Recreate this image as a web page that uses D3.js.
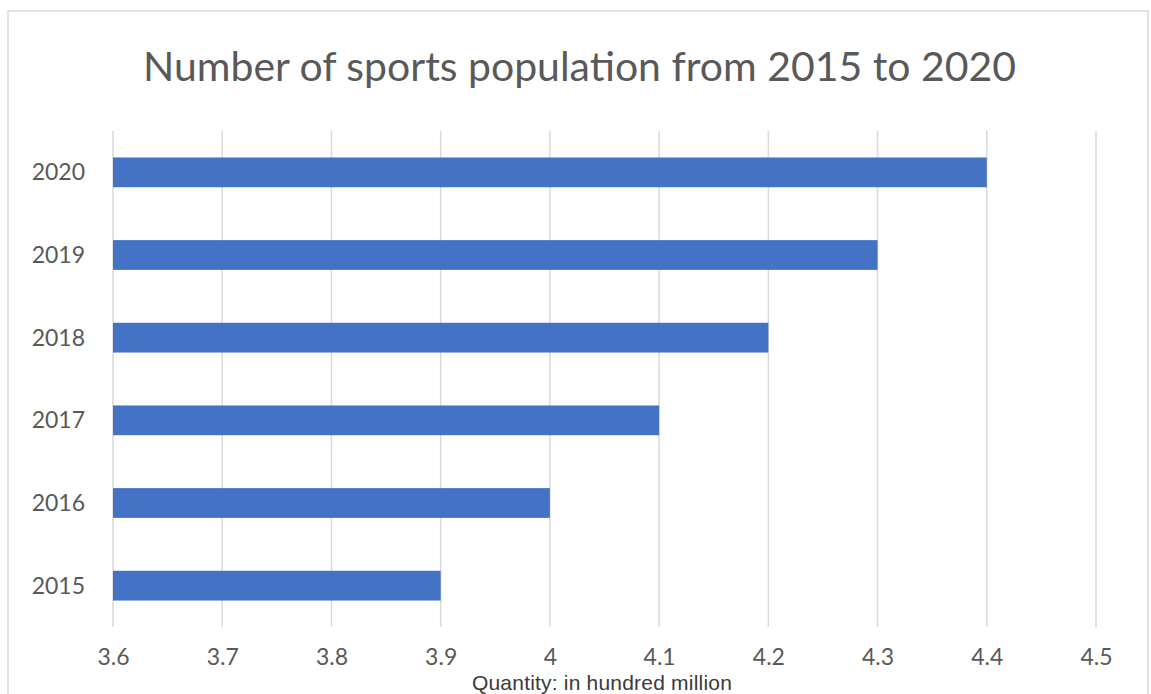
<!DOCTYPE html>
<html><head><meta charset="utf-8">
<script src="https://cdn.jsdelivr.net/npm/d3@7"></script>
<style>body{margin:0;background:#fff;}svg{display:block;}</style>
</head><body>
<script>
const years = ["2015","2016","2017","2018","2019","2020"];
const values = [3.9, 4.0, 4.1, 4.2, 4.3, 4.4];
const xTicks = [3.6,3.7,3.8,3.9,4.0,4.1,4.2,4.3,4.4,4.5];
const titleText = "Number of sports population from 2015 to 2020";
const axisTitle = "Quantity: in hundred million";

const W = 1151, H = 694;
const svg = d3.select("body").append("svg").attr("width", W).attr("height", H);
svg.append("rect").attr("x",8).attr("y",11).attr("width",1140).attr("height",700)
  .attr("fill","#fff").attr("stroke","#d9d9d9").attr("stroke-width",1.5);

const x = d3.scaleLinear().domain([3.6,4.5]).range([113,1096]);
const y = d3.scaleBand().domain(years.slice().reverse()).range([131,627]).paddingInner(0.64).paddingOuter(0.32);

// gridlines
svg.append("g").selectAll("line").data(xTicks).join("line")
  .attr("x1",d=>x(d)).attr("x2",d=>x(d)).attr("y1",131).attr("y2",627)
  .attr("stroke","#d9d9d9").attr("stroke-width",1.5);

// bars
svg.append("g").selectAll("rect").data(years.map((yr,i)=>({yr,v:values[i]}))).join("rect")
  .attr("x",x(3.6)).attr("y",d=>y(d.yr)).attr("width",d=>x(d.v)-x(3.6)).attr("height",y.bandwidth())
  .attr("fill","#4472C4");

// x axis
const xa = svg.append("g").attr("transform","translate(0,665)")
  .call(d3.axisBottom(x).tickValues(xTicks).tickSize(0).tickPadding(0).tickFormat(d=>d3.format("")(+d.toFixed(1))));
xa.select(".domain").remove();
xa.selectAll("text").attr("dy",0).attr("font-family","Lato, 'Open Sans', sans-serif").attr("font-size",23).attr("fill","#595959");

// y axis
const ya = svg.append("g").attr("transform","translate(85,0)")
  .call(d3.axisLeft(y).tickSize(0).tickPadding(0));
ya.select(".domain").remove();
ya.selectAll("text").attr("dy","0.35em").attr("font-family","Lato, 'Open Sans', sans-serif").attr("font-size",23).attr("fill","#595959");

// title
const t = svg.append("text").attr("x",579.5).attr("y",81).attr("text-anchor","middle")
  .attr("font-family","Lato, 'Open Sans', sans-serif").attr("font-size",40).attr("fill","#595959").text(titleText);
const tw = t.node().getComputedTextLength();
t.attr("font-size", 40*873/tw);

// axis title
svg.append("text").attr("x",602).attr("y",689.5).attr("text-anchor","middle")
  .attr("font-family","'Liberation Sans', Arial, sans-serif").attr("font-size",21).attr("fill","#3a3a3a")
  .attr("letter-spacing",0.2).text(axisTitle);
</script>
</body></html>
